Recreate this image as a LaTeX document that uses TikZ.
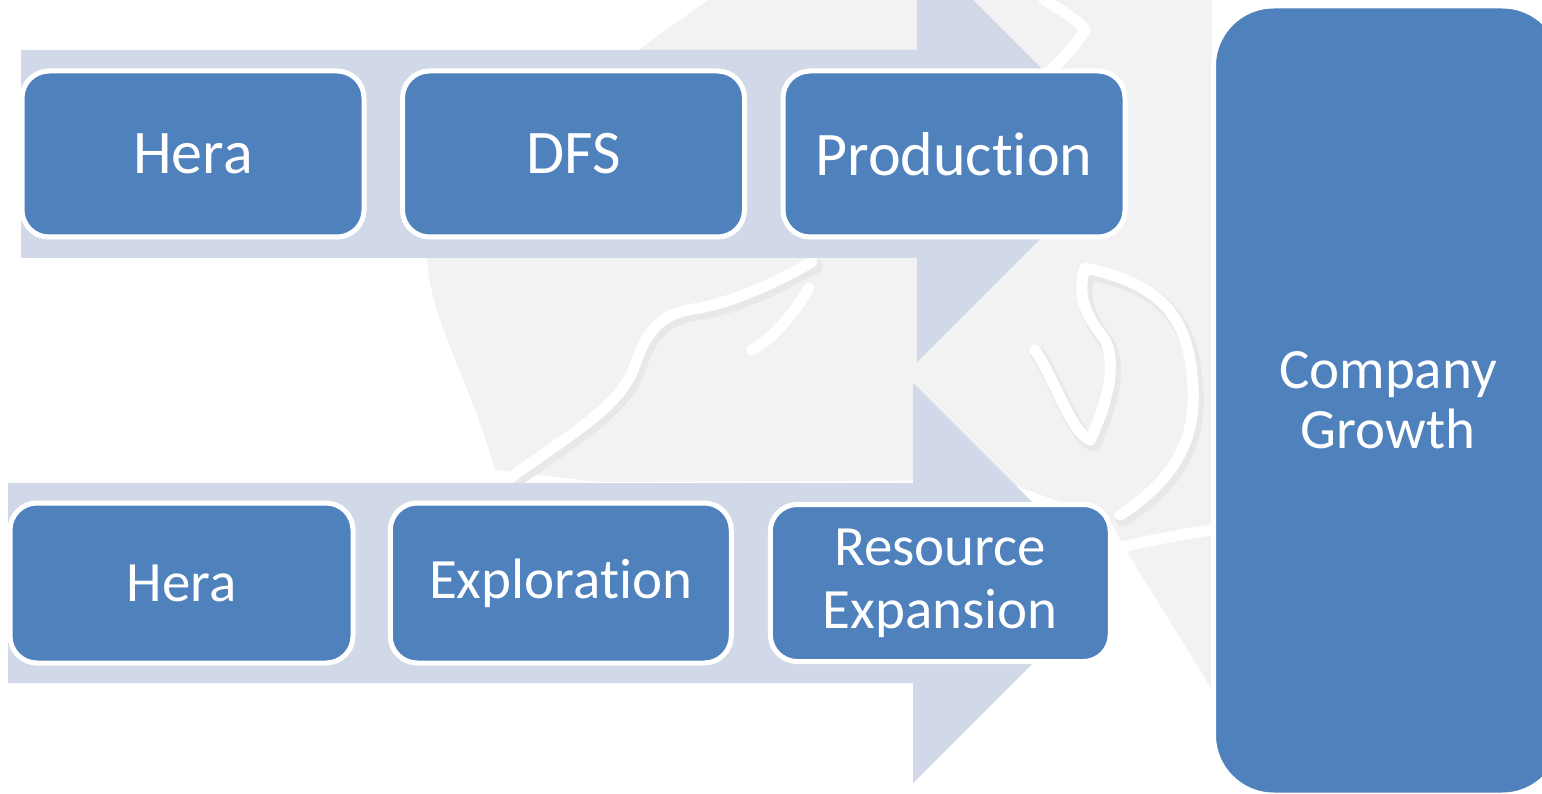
\documentclass[tikz,border=0pt]{standalone}
\usepackage{fontspec}
\setmainfont{Carlito}[Ligatures=NoCommon]
\usetikzlibrary{shapes.misc}
\definecolor{boxblue}{HTML}{4F81BD}
\definecolor{arrowfill}{HTML}{D1D8E8}
\definecolor{wmgray}{HTML}{F2F2F2}
\definecolor{wmshade}{HTML}{E8E8E8}
\tikzset{
  stagebox/.style={draw=white, line width=5pt, fill=boxblue, rounded corners=27pt,
    text=white, align=center, inner sep=0pt,
    font=\fontsize{62}{63}\selectfont},
  smalltext/.style={font=\fontsize{57}{63}\selectfont},
  bigarrow/.style={fill=arrowfill, draw=none},
  wmline/.style={draw=white, line width=11pt, line cap=round, line join=round},
  wmshadow/.style={draw=wmshade, line width=15pt, line cap=round, line join=round},
}
\begin{document}
\begin{tikzpicture}[x=1pt, y=-1pt]
\useasboundingbox (0,0) rectangle (1542,794);
\clip (0,0) rectangle (1542,794);
\fill[white] (0,0) rectangle (1542,794);
% faint watermark
\fill[wmgray] (708,0) -- (1212,0) -- (1212,690) .. controls (1170,620) and (1130,560) .. (1110,520)
  -- (1000,480) -- (600,482) -- (495,470) .. controls (470,380) and (430,320) .. (427,258) -- (425,180) -- (641,48) -- cycle;
\begin{scope}[shift={(3,4)}]
\draw[wmshadow] (505,482) .. controls (560,440) and (620,410) .. (635,365)
  .. controls (650,320) and (670,312) .. (700,308) .. controls (740,300) and (780,280) .. (812,262);
\draw[wmshadow] (1085,268) .. controls (1140,280) and (1180,300) .. (1190,360)
  .. controls (1200,420) and (1190,470) .. (1120,515);
\draw[wmshadow] (1085,268) .. controls (1075,300) and (1090,320) .. (1105,340)
  .. controls (1120,370) and (1100,420) .. (1090,440) .. controls (1070,430) and (1055,380) .. (1035,350);
\end{scope}
\draw[wmline] (505,482) .. controls (560,440) and (620,410) .. (635,365)
  .. controls (650,320) and (670,312) .. (700,308) .. controls (740,300) and (780,280) .. (812,262);
\draw[wmline] (809,288) .. controls (790,320) and (770,340) .. (752,350);
\draw[wmline] (1085,268) .. controls (1140,280) and (1180,300) .. (1190,360)
  .. controls (1200,420) and (1190,470) .. (1120,515);
\draw[wmline] (1085,268) .. controls (1075,300) and (1090,320) .. (1105,340)
  .. controls (1120,370) and (1100,420) .. (1090,440) .. controls (1070,430) and (1055,380) .. (1035,350);
\draw[wmline] (1044,0) .. controls (1065,12) and (1080,22) .. (1085,30) .. controls (1070,55) and (1050,70) .. (1040,80);
\draw[wmline] (1118,548) .. controls (1150,540) and (1180,535) .. (1212,530);
\draw[wmline] (1120,600) .. controls (1160,630) and (1190,670) .. (1212,720);
% big arrows
\fill[bigarrow] (21,50) -- (917,50) -- (917,-56) -- (1126,153) -- (917,362) -- (917,258) -- (21,258) -- cycle;
\fill[bigarrow] (8,483) -- (913,483) -- (913,383) -- (1113,583) -- (913,783) -- (913,683) -- (8,683) -- cycle;
% top row
\node[stagebox, minimum width=342pt, minimum height=166pt] (hera1) at (193,154) {Hera};
\node[stagebox, minimum width=342pt, minimum height=166pt] (dfs) at (573.5,154) {DFS};
\node[stagebox, minimum width=342pt, minimum height=166pt] (prod) at (954,154) {Production};
% bottom row
\node[stagebox, smalltext, minimum width=343pt, minimum height=160pt] (hera2) at (181.5,583) {Hera};
\node[stagebox, smalltext, minimum width=341pt, minimum height=160pt] (explo) at (560.75,583) {Exploration};
\node[stagebox, smalltext, minimum width=340pt, minimum height=157pt] (resexp) at (940.25,583) {Resource\\Expansion};
% company growth
\node[stagebox, rounded corners=60pt, minimum width=349pt, minimum height=789pt,
  font=\fontsize{57}{60}\selectfont] (growth) at (1388,400.5) {Company\\Growth};
\end{tikzpicture}
\end{document}
